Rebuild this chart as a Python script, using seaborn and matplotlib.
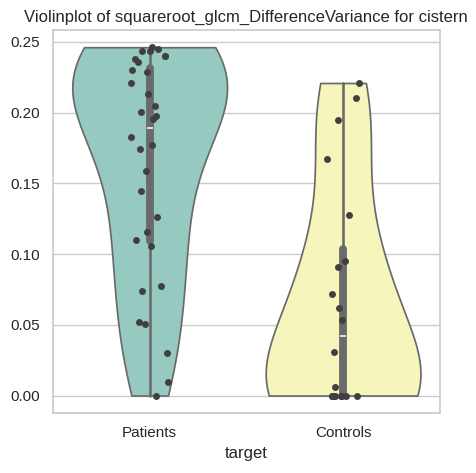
import numpy as np
import pandas as pd
import matplotlib
matplotlib.use("Agg")
import matplotlib.pyplot as plt
import seaborn as sns

# values
patients = [0.2463, 0.2450, 0.2439, 0.2434, 0.2402, 0.2402, 0.2383, 0.2360,
            0.2303, 0.2289, 0.2210, 0.2135, 0.2048, 0.2008, 0.1978, 0.1957,
            0.1831, 0.1770, 0.1742, 0.1585, 0.1444, 0.1262, 0.1159, 0.1103,
            0.1058, 0.0772, 0.0742, 0.0520, 0.0506, 0.0302, 0.0098, 0.0]
controls = [0.2210, 0.2105, 0.1950, 0.1676, 0.1276, 0.0953, 0.0911, 0.0721,
            0.0616, 0.0532, 0.0309, 0.0061, 0.0, 0.0, 0.0, 0.0,
            0.0, 0.0, 0.0, 0.0]
groups = ["Patients", "Controls"]
feature = "squareroot_glcm_DifferenceVariance"
region = "cistern"

df = pd.DataFrame({
    "target": ["Patients"] * len(patients) + ["Controls"] * len(controls),
    feature: patients + controls,
})

sns.set_theme(style="whitegrid")
plt.rcParams["font.family"] = ["Liberation Sans", "DejaVu Sans"]
np.random.seed(3)

fig, ax = plt.subplots(figsize=(4.77, 4.73), dpi=100)
sns.violinplot(data=df, x="target", y=feature, hue="target", order=groups,
               hue_order=groups, palette="Set3", cut=0, inner="box",
               density_norm="width", legend=False, ax=ax)
sns.stripplot(data=df, x="target", y=feature, order=groups, color=".25",
              size=5, jitter=0.1, ax=ax)
ax.set_title(f"Violinplot of {feature} for {region}")
ax.set_ylabel("")
ax.set_xlabel("target")
fig.subplots_adjust(left=0.111, right=0.922, top=0.937, bottom=0.127)
plt.savefig("out.png")
